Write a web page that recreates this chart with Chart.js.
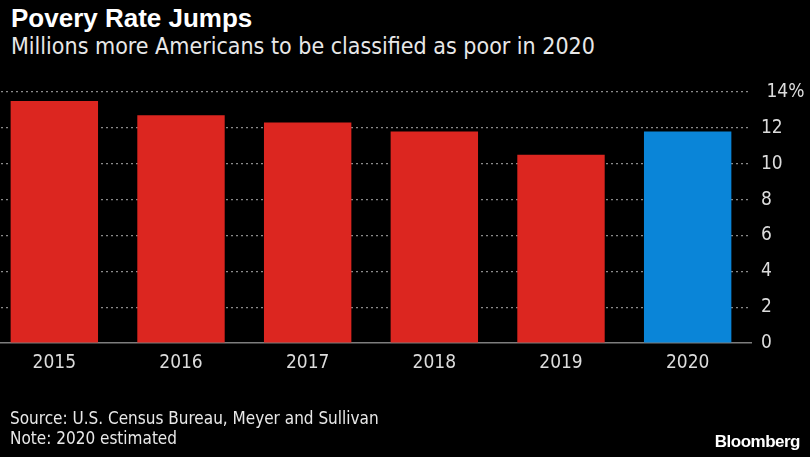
<!DOCTYPE html>
<html>
<head>
<meta charset="utf-8">
<script src="https://cdn.jsdelivr.net/npm/chart.js@4/dist/chart.umd.min.js"></script>
<style>
    html, body { margin: 0; padding: 0; background: #000; overflow: hidden; }
    body { width: 810px; height: 457px; position: relative; }
    .txt { position: absolute; color: #e8e8e8; white-space: nowrap; }
    #title { left: 11px; top: 3px; font: bold 26px "Liberation Sans", Arial, sans-serif; color: #fff; }
    #subtitle { left: 11px; top: 33px; font: 23px "DejaVu Sans Condensed", sans-serif; }
    #source { left: 10px; top: 408px; font: 17px "DejaVu Sans Condensed", sans-serif; line-height: 20px; }
    #brand { right: 10px; top: 432px; font: bold 17px "Liberation Sans", Arial, sans-serif; letter-spacing: -0.5px; color: #fff; }
    #wrap { position: absolute; left: -9px; top: 0; width: 819px; height: 457px; }
</style>
</head>
<body>
<div id="title" class="txt">Povery Rate Jumps</div>
<div id="subtitle" class="txt">Millions more Americans to be classified as poor in 2020</div>
<div id="wrap"><canvas id="poverty-chart"></canvas></div>
<div id="source" class="txt">Source: U.S. Census Bureau, Meyer and Sullivan<br>Note: 2020 estimated</div>
<div id="brand" class="txt">Bloomberg</div>

<script>
    "use strict";

    // values
    const years = ['2015', '2016', '2017', '2018', '2019', '2020'];
    const povertyRate = [13.5, 12.7, 12.3, 11.8, 10.5, 11.8];
    const barColors = ['#dc2620', '#dc2620', '#dc2620', '#dc2620', '#dc2620', '#0a85d8'];
    const yTicks = [0, 2, 4, 6, 8, 10, 12, 14];

    const narrow = '"DejaVu Sans Condensed", sans-serif';

    let povertyChart = document.getElementById('poverty-chart');
    if (povertyChart) {
        window.Chart && new Chart(povertyChart, {
            type: 'bar',
            data: {
                labels: years,
                datasets: [{
                    label: 'Poverty rate',
                    data: povertyRate,
                    backgroundColor: barColors,
                    borderWidth: 0,
                    barPercentage: 0.69,
                    categoryPercentage: 1
                }]
            },
            options: {
                responsive: true,
                maintainAspectRatio: false,
                animation: false,
                layout: {
                    padding: { top: 92, left: 0, right: 0, bottom: 0 }
                },
                plugins: {
                    legend: { display: false },
                    tooltip: { enabled: false }
                },
                scales: {
                    x: {
                        grid: { display: false, drawTicks: false },
                        border: { display: true, color: '#7d7d7d', width: 1.5 },
                        ticks: {
                            color: '#dcdcdc',
                            padding: 9,
                            font: { family: narrow, size: 19 }
                        },
                        afterFit: function(scale) { scale.height = 457 - 343; }
                    },
                    y: {
                        position: 'right',
                        min: 0,
                        max: 14,
                        afterBuildTicks: function(scale) {
                            scale.ticks = yTicks.map(v => ({ value: v }));
                        },
                        grid: {
                            color: ctx => ctx.tick && ctx.tick.value === 0 ? 'rgba(0,0,0,0)' : '#8a8a8a',
                            lineWidth: 1.2,
                            drawTicks: false
                        },
                        border: { display: false, dash: [2, 3] },
                        ticks: {
                            color: '#dcdcdc',
                            padding: 10,
                            font: { family: narrow, size: 19 },
                            callback: v => v === 14 ? ' 14%' : v
                        },
                        afterFit: function(scale) { scale.width = 819 - 760; }
                    }
                }
            }
        });
    }
</script>
</body>
</html>
